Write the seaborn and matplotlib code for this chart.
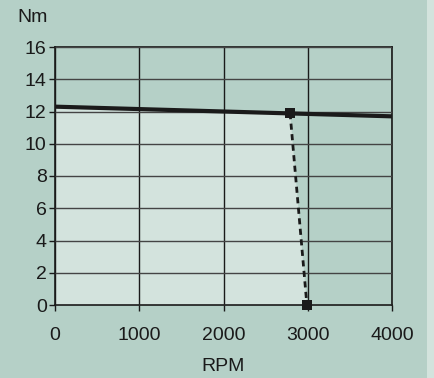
import matplotlib
matplotlib.use("Agg")
import matplotlib.pyplot as plt
import seaborn as sns
import pandas as pd
from matplotlib.patches import Rectangle

# Data
curve_rpm = [0, 4000]
curve_torque = [12.3, 11.7]
cut_rpm = [2790, 2990]
cut_torque = [11.9, 0]
x_ticks = [0, 1000, 2000, 3000, 4000]
y_ticks = [0, 2, 4, 6, 8, 10, 12, 14, 16]

sns.set_theme(style="white")
plt.rcParams['font.family'] = ['Liberation Sans', 'DejaVu Sans']

bg = "#b5d0c7"
light = "#d3e3dd"

fig = plt.figure(figsize=(4.34, 3.78), dpi=100, facecolor=bg)
fig.patches.append(Rectangle((427 / 434, 0), 7 / 434, 1, transform=fig.transFigure,
                             facecolor=light, edgecolor="none", zorder=0))
ax = fig.add_axes([55 / 434, 1 - 305 / 378, (392 - 55) / 434, (305 - 47) / 378])
ax.set_facecolor(bg)

# light fill under operating area
poly_x = [curve_rpm[0], curve_rpm[0], cut_rpm[0], cut_rpm[1]]
poly_y = [0, curve_torque[0], cut_torque[0], cut_torque[1]]
ax.fill(poly_x, poly_y, color=light, zorder=1, linewidth=0)

ax.set_xlim(0, 4000)
ax.set_ylim(0, 16)
ax.set_xticks(x_ticks)
ax.set_yticks(y_ticks)
ax.grid(True, axis="y", color="#444444", linewidth=1.0, zorder=2)
ax.grid(True, axis="x", color="#1a1a1a", linewidth=1.0, zorder=2)
ax.set_axisbelow(False)

df_curve = pd.DataFrame({"rpm": curve_rpm, "torque": curve_torque})
df_cut = pd.DataFrame({"rpm": cut_rpm, "torque": cut_torque})
sns.lineplot(data=df_curve, x="rpm", y="torque", ax=ax, color="#1a1a1a", linewidth=3, zorder=4)
sns.lineplot(data=df_cut, x="rpm", y="torque", ax=ax, color="#1a1a1a", linewidth=2,
             linestyle=(0, (2.2, 1.6)), marker="s", markersize=6.5, markeredgewidth=0,
             zorder=5, clip_on=False)

for s in ax.spines.values():
    s.set_color("#1a1a1a")
    s.set_linewidth(1.2)

ax.tick_params(axis="both", which="both", direction="out", length=4, width=1,
               color="#1a1a1a", labelsize=14, labelcolor="#1a1a1a", left=True, bottom=True)
ax.tick_params(axis="x", pad=12)
ax.tick_params(axis="y", pad=2)
ax.set_xlabel("RPM", fontsize=14, color="#1a1a1a", labelpad=10)
ax.set_ylabel("")
fig.text(17 / 434, 1 - 18 / 378, "Nm", fontsize=14, color="#1a1a1a", va="center", ha="left")

fig.savefig("out.png", dpi=100, facecolor=bg)
